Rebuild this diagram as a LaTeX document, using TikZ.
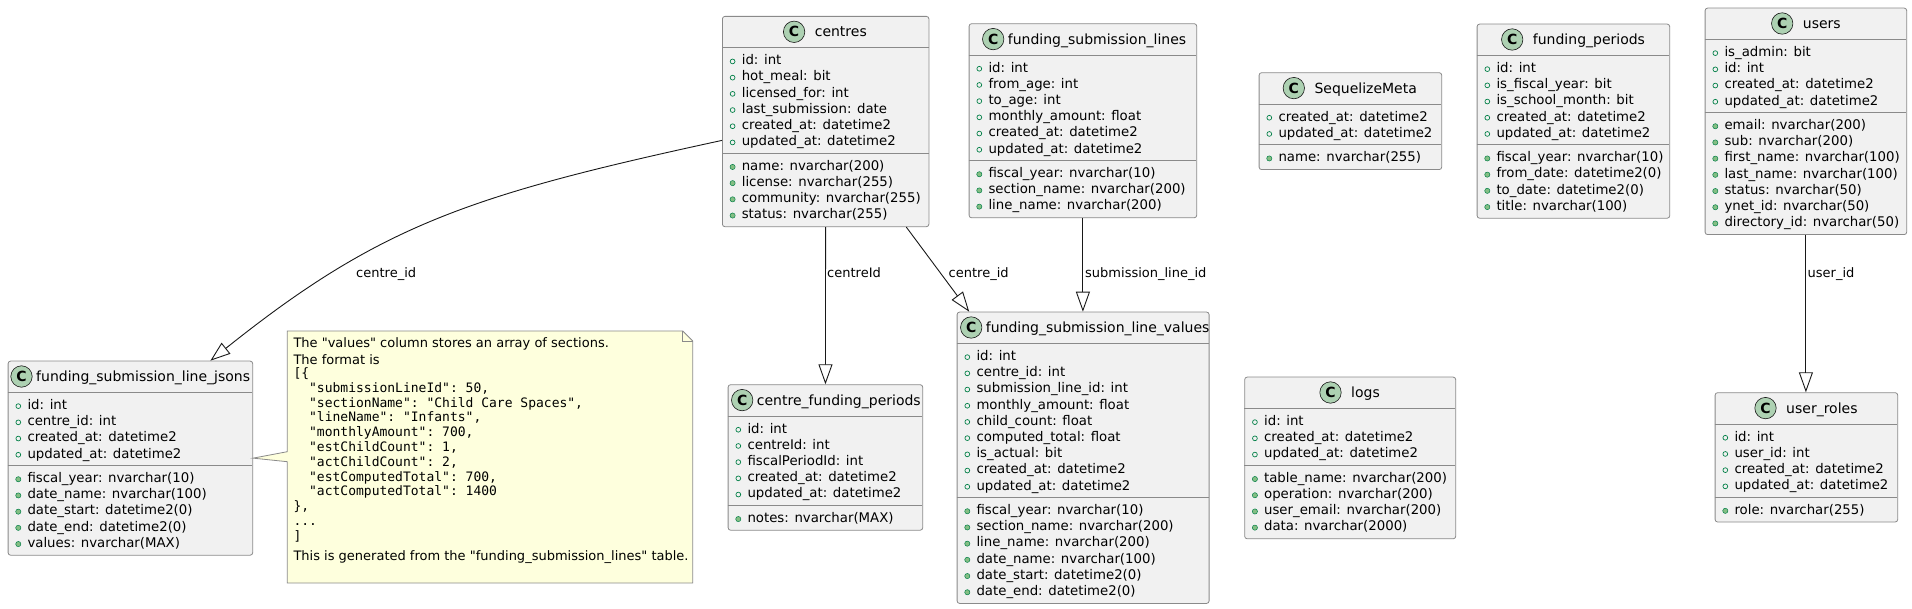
\documentclass[tikz,border=0pt]{standalone}
\usepackage{fontspec}
\setmainfont{DejaVu Sans}
\setmonofont{DejaVu Sans Mono}
\newfontfamily\notefont{DejaVu Sans}
\usetikzlibrary{arrows.meta,calc}

\definecolor{boxfill}{HTML}{F1F1F1}
\definecolor{boxline}{HTML}{8A8A8A}
\definecolor{iconfill}{HTML}{ADD1B2}
\definecolor{keyline}{HTML}{038048}
\definecolor{datafill}{HTML}{84BE84}
\definecolor{notefill}{HTML}{FEFFDD}
\definecolor{linkline}{HTML}{181818}

\tikzset{
  tablebox/.style={draw=boxline, fill=boxfill, line width=0.8pt, rounded corners=2.5pt, inner sep=0pt},
  tablesep/.style={draw=boxline, line width=0.8pt},
  tabletitle/.style={inner sep=0pt, anchor=base west, font=\fontsize{14}{16}\selectfont},
  classicon/.style={circle, draw=linkline, line width=0.6pt, fill=iconfill, minimum size=21.4pt, inner sep=0pt, font=\bfseries\fontsize{14}{14}\selectfont},
  fieldtext/.style={inner sep=0pt, anchor=base west, font=\fontsize{13.3}{16}\selectfont},
  keymark/.style={draw=keyline, line width=0.7pt},
  datamark/.style={draw=keyline, fill=datafill, line width=0.5pt},
  fk/.style={draw=linkline, line width=0.9pt, -{Triangle[open, length=20pt, width=14pt]}},
  fklabel/.style={inner sep=0pt, anchor=base west, font=\fontsize{13}{15}\selectfont},
  notebox/.style={draw=boxline, fill=notefill, line width=0.8pt},
  notetext/.style={inner sep=0pt, anchor=base west, font=\notefont\fontsize{13}{15}\selectfont},
  notecode/.style={inner sep=0pt, anchor=base west, font=\ttfamily\fontsize{13}{15}\selectfont},
}

% #1 name, #2 left, #3 top, #4 width, #5 title offset, #6 title, #7 key fields, #8 other fields
\newcommand{\dbtable}[8]{%
  \foreach \f [count=\i] in {#7} {\xdef\nkeys{\i}}%
  \foreach \f [count=\i] in {#8} {\xdef\nrest{\i}}%
  \pgfmathsetmacro\sepA{#3+31.7}%
  \pgfmathsetmacro\sepB{\sepA+\nkeys*16.2+8.3}%
  \pgfmathsetmacro\boxh{\sepB+\nrest*16.2+8.3-#3}%
  \pgfmathsetmacro\icond{#5<45 ? 14.5 : 20.5}%
  \node[tablebox, anchor=north west, minimum width=#4pt, minimum height=\boxh pt] (#1) at (#2,#3) {};
  \draw[tablesep] (#2,\sepA) -- ++(#4,0);
  \draw[tablesep] (#2,\sepB) -- ++(#4,0);
  \node[tabletitle] (#1-title) at ({#2+#5},{#3+20.8}) {#6};
  \node[classicon] (#1-icon) at ({#2+#5-\icond},{#3+15.8}) {C};
  \foreach \f [count=\i] in {#7} {
    \pgfmathsetmacro\rowy{\sepA+4.15+(\i-0.5)*16.2}
    \draw[keymark] ({#2+10.6},{\rowy+1.5}) circle (2.4pt);
    \node[fieldtext] (#1-k\i) at ({#2+19.6},{\rowy+4.8}) {\f};
  }
  \foreach \f [count=\i] in {#8} {
    \pgfmathsetmacro\rowy{\sepB+4.15+(\i-0.5)*16.2}
    \draw[datamark] ({#2+10.6},{\rowy+1.5}) circle (2.6pt);
    \node[fieldtext] (#1-d\i) at ({#2+19.6},{\rowy+4.8}) {\f};
  }
}

\begin{document}
\begin{tikzpicture}[x=1pt, y=-1pt]
\useasboundingbox (0,0) rectangle (1912,609);

% tables
\dbtable{centres}{722}{16}{206.5}{92.6}{centres}
  {id: int, hot\_meal: bit, licensed\_for: int, last\_submission: date, created\_at: datetime2, updated\_at: datetime2}
  {name: nvarchar(200), license: nvarchar(255), community: nvarchar(255), status: nvarchar(255)}
\dbtable{fsl}{968.7}{23.3}{227.6}{39}{funding\_submission\_lines}
  {id: int, from\_age: int, to\_age: int, monthly\_amount: float, created\_at: datetime2, updated\_at: datetime2}
  {fiscal\_year: nvarchar(10), section\_name: nvarchar(200), line\_name: nvarchar(200)}
\dbtable{meta}{1258.7}{72.3}{182.6}{55.6}{SequelizeMeta}
  {created\_at: datetime2, updated\_at: datetime2}
  {name: nvarchar(255)}
\dbtable{periods}{1476.7}{23.7}{192.6}{56}{funding\_periods}
  {id: int, is\_fiscal\_year: bit, is\_school\_month: bit, created\_at: datetime2, updated\_at: datetime2}
  {fiscal\_year: nvarchar(10), from\_date: datetime2(0), to\_date: datetime2(0), title: nvarchar(100)}
\dbtable{users}{1704.7}{7.7}{201.6}{98}{users}
  {is\_admin: bit, id: int, created\_at: datetime2, updated\_at: datetime2}
  {email: nvarchar(200), sub: nvarchar(200), first\_name: nvarchar(100), last\_name: nvarchar(100), status: nvarchar(50), ynet\_id: nvarchar(50), directory\_id: nvarchar(50)}
\dbtable{roles}{1714.7}{392.3}{182.6}{71.3}{user\_roles}
  {id: int, user\_id: int, created\_at: datetime2, updated\_at: datetime2}
  {role: nvarchar(255)}
\dbtable{logs}{1244.3}{376.7}{211}{106.7}{logs}
  {id: int, created\_at: datetime2, updated\_at: datetime2}
  {table\_name: nvarchar(200), operation: nvarchar(200), user\_email: nvarchar(200), data: nvarchar(2000)}
\dbtable{values}{956.7}{311.7}{252}{29}{funding\_submission\_line\_values}
  {id: int, centre\_id: int, submission\_line\_id: int, monthly\_amount: float, child\_count: float, computed\_total: float, is\_actual: bit, created\_at: datetime2, updated\_at: datetime2}
  {fiscal\_year: nvarchar(10), section\_name: nvarchar(200), line\_name: nvarchar(200), date\_name: nvarchar(100), date\_start: datetime2(0), date\_end: datetime2(0)}
\dbtable{cfp}{727.7}{384.3}{194.6}{29}{centre\_funding\_periods}
  {id: int, centreId: int, fiscalPeriodId: int, created\_at: datetime2, updated\_at: datetime2}
  {notes: nvarchar(MAX)}
\dbtable{jsons}{7.7}{360.7}{244.6}{28.3}{funding\_submission\_line\_jsons}
  {id: int, centre\_id: int, created\_at: datetime2, updated\_at: datetime2}
  {fiscal\_year: nvarchar(10), date\_name: nvarchar(100), date\_start: datetime2(0), date\_end: datetime2(0), values: nvarchar(MAX)}

% note on the jsons table
\draw[notebox] (287.3,331) -- (682.7,331) -- (692.7,341) -- (692.7,583) -- (287.3,583)
  -- (287.3,461.7) -- (jsons.east) -- (287.3,451.7) -- cycle;
\draw[notebox, fill=none] (682.7,331) -- (682.7,341) -- (692.7,341);
\node[notetext] (note-l1) at (293.3,348) {The "values" column stores an array of sections.};
\node[notetext] (note-l2) at (293.3,364.5) {The format is};
\node[notecode] (note-c0) at (293.3,377.5) {[\{};
\node[notecode] (note-c1) at (293.3,392.3) {\phantom{xx}"submissionLineId": 50,};
\node[notecode] (note-c2) at (293.3,407.1) {\phantom{xx}"sectionName": "Child Care Spaces",};
\node[notecode] (note-c3) at (293.3,421.9) {\phantom{xx}"lineName": "Infants",};
\node[notecode] (note-c4) at (293.3,436.7) {\phantom{xx}"monthlyAmount": 700,};
\node[notecode] (note-c5) at (293.3,451.5) {\phantom{xx}"estChildCount": 1,};
\node[notecode] (note-c6) at (293.3,466.3) {\phantom{xx}"actChildCount": 2,};
\node[notecode] (note-c7) at (293.3,481.1) {\phantom{xx}"estComputedTotal": 700,};
\node[notecode] (note-c8) at (293.3,495.9) {\phantom{xx}"actComputedTotal": 1400};
\node[notecode] (note-c9) at (293.3,510.7) {\},};
\node[notecode] (note-c10) at (293.3,525.5) {...};
\node[notecode] (note-c11) at (293.3,540.3) {]};
\node[notetext] (note-l3) at (293.3,560.5) {This is generated from the "funding\_submission\_lines" table.};

% links
\draw[fk] ($(centres.west)+(0,18.85)$) .. controls (470,195) and (380,225) .. ([xshift=80pt]jsons.north);
\draw[fk] (centres) -- (cfp);
\draw[fk] ($(centres.south east)+(-23,0)$) -- ($(values.north west)+(12.5,0)$);
\draw[fk] (fsl.south) -- (fsl.south |- values.north);
\draw[fk] (users.south) -- (users.south |- roles.north);
\node[fklabel] (lbl-jsons) at (356,277.5) {centre\_id};
\node[fklabel] (lbl-cfp) at (827,277.5) {centreId};
\node[fklabel] (lbl-values) at (948.5,277.5) {centre\_id};
\node[fklabel] (lbl-lines) at (1085,277.5) {submission\_line\_id};
\node[fklabel] (lbl-roles) at (1807.5,277.5) {user\_id};
\end{tikzpicture}
\end{document}
